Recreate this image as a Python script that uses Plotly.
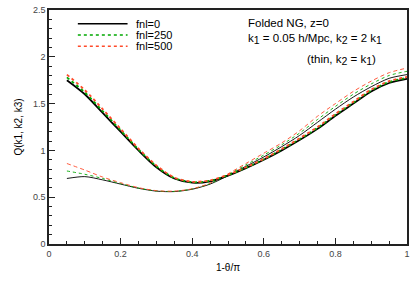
import plotly.graph_objects as go

x = [0.05, 0.10, 0.15, 0.20, 0.25, 0.30, 0.35, 0.40, 0.45, 0.50,
     0.55, 0.60, 0.65, 0.70, 0.75, 0.80, 0.85, 0.90, 0.95, 1.00]

# thick curves: k2 = 2 k1
thick_fnl0 = [1.75, 1.60, 1.40, 1.20, 1.00, 0.82, 0.70, 0.655, 0.67, 0.73,
              0.81, 0.90, 1.00, 1.11, 1.23, 1.37, 1.50, 1.63, 1.72, 1.765]
thick_fnl250 = [1.78, 1.62, 1.42, 1.215, 1.01, 0.83, 0.705, 0.66, 0.675, 0.735,
                0.815, 0.905, 1.01, 1.12, 1.24, 1.38, 1.51, 1.64, 1.73, 1.775]
thick_fnl500 = [1.81, 1.645, 1.44, 1.23, 1.02, 0.84, 0.71, 0.665, 0.68, 0.74,
                0.82, 0.91, 1.015, 1.13, 1.25, 1.39, 1.52, 1.65, 1.74, 1.785]

# thin curves: k2 = k1
thin_fnl0 = [0.70, 0.72, 0.685, 0.64, 0.595, 0.565, 0.56, 0.585, 0.64, 0.73,
             0.83, 0.93, 1.04, 1.16, 1.30, 1.44, 1.57, 1.68, 1.77, 1.81]
thin_fnl250 = [0.78, 0.745, 0.70, 0.645, 0.598, 0.567, 0.562, 0.588, 0.645, 0.74,
               0.845, 0.95, 1.06, 1.185, 1.33, 1.47, 1.60, 1.71, 1.80, 1.845]
thin_fnl500 = [0.86, 0.79, 0.715, 0.655, 0.602, 0.57, 0.565, 0.59, 0.65, 0.75,
               0.86, 0.97, 1.08, 1.21, 1.365, 1.50, 1.63, 1.74, 1.83, 1.88]

legend_labels = ["fnl=0", "fnl=250", "fnl=500"]
x_ticks = [0, 0.2, 0.4, 0.6, 0.8, 1]
x_tick_labels = ["0", "0.2", "0.4", "0.6", "0.8", "1"]
y_ticks = [0, 0.5, 1, 1.5, 2, 2.5]
y_tick_labels = ["0", "0.5", "1", "1.5", "2", "2.5"]

BLACK = "#000000"
GREEN = "#00a800"
RED = "#ff4a2a"
colors = [BLACK, GREEN, RED]
thick_dash = ["solid", "dot", "dot"]
thin_dash = ["solid", "dot", "4px,3px"]
FONT = "Liberation Sans, Arial"

fig = go.Figure()
for ys, c, d in zip([thin_fnl0, thin_fnl250, thin_fnl500], colors, thin_dash):
    fig.add_trace(go.Scatter(x=x, y=ys, mode="lines", showlegend=False, hoverinfo="skip",
                             line=dict(color=c, width=0.9, dash=d, shape="spline", smoothing=0.8)))
for ys, c, d in zip([thick_fnl0, thick_fnl250, thick_fnl500], colors, thick_dash):
    fig.add_trace(go.Scatter(x=x, y=ys, mode="lines", showlegend=False, hoverinfo="skip",
                             line=dict(color=c, width=1.8, dash=d, shape="spline", smoothing=0.8)))

L, R, T, B = 49, 6, 5, 49
W, H = 415, 293
pw, ph = W - L - R, H - T - B

def px2paper(px, py):
    return (px - L) / pw, (H - B - py) / ph

shapes = []
annotations = []
leg_y = [19, 30.5, 42]
for lab, c, d, py in zip(legend_labels, colors, thick_dash, leg_y):
    x0, y0 = px2paper(78, py)
    x1, _ = px2paper(128, py)
    shapes.append(dict(type="line", xref="paper", yref="paper", x0=x0, x1=x1, y0=y0, y1=y0,
                       line=dict(color=c, width=1.6, dash=d)))
    tx, _ = px2paper(134, py)
    annotations.append(dict(xref="paper", yref="paper", x=tx, y=y0, text=lab, showarrow=False,
                            xanchor="left", yanchor="middle",
                            font=dict(family=FONT, size=11, color="#000")))

def add_text(px, py, text, size=11.5):
    ax, ay = px2paper(px, py)
    annotations.append(dict(xref="paper", yref="paper", x=ax, y=ay, text=text, showarrow=False,
                            xanchor="left", yanchor="middle",
                            font=dict(family=FONT, size=size, color="#000")))

def sub(s):
    return "<sub><span style='font-size:10.5px'>" + s + "</span></sub>"

add_text(247, 18, "Folded NG, z=0")
add_text(247, 35, "k" + sub("1") + " = 0.05 h/Mpc, k" + sub("2") + " = 2 k" + sub("1"))
add_text(306, 56, "(thin, k" + sub("2") + " = k" + sub("1") + ")")

axis_common = dict(showline=True, linecolor="#222", linewidth=1.5, mirror=True,
                   ticks="inside", tickcolor="#222", tickwidth=1.2, ticklen=6,
                   showgrid=False, zeroline=False,
                   tickfont=dict(family=FONT, size=9, color="#444"))

fig.update_layout(
    width=W, height=H,
    margin=dict(l=L, r=R, t=T, b=B),
    paper_bgcolor="white", plot_bgcolor="white",
    shapes=shapes, annotations=annotations,
    xaxis=dict(range=[0, 1], tickvals=x_ticks, ticktext=x_tick_labels,
               minor=dict(ticks="inside", ticklen=3, tickcolor="#222", tickwidth=1, dtick=0.05, showgrid=False),
               title=dict(text="1-θ/π", font=dict(family=FONT, size=10, color="#000"), standoff=6),
               **axis_common),
    yaxis=dict(range=[0, 2.5], tickvals=y_ticks, ticktext=y_tick_labels,
               minor=dict(ticks="inside", ticklen=3, tickcolor="#222", tickwidth=1, dtick=0.1, showgrid=False),
               title=dict(text="Q(k1, k2, k3)", font=dict(family=FONT, size=10, color="#000"), standoff=8),
               **axis_common),
)

fig.write_html("out.html", config={"displayModeBar": False},
               post_script="document.body.style.margin='0';")
